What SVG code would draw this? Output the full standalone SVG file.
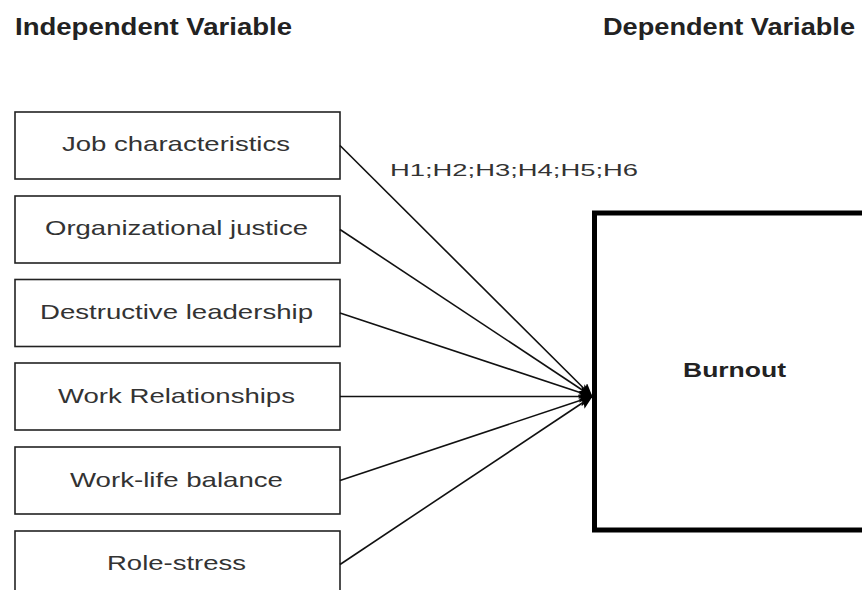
<svg xmlns="http://www.w3.org/2000/svg" width="862" height="590" viewBox="0 0 862 590">
<style>
.bg{fill:#ffffff}
.box{fill:#ffffff;stroke:#222;stroke-width:1.6}
.main{fill:#ffffff;stroke:#000;stroke-width:5}
.t{font-family:"Liberation Sans",Arial,sans-serif;font-size:21px;fill:#333}
.h{font-family:"Liberation Sans",Arial,sans-serif;font-size:23px;font-weight:bold;fill:#222}
.b{font-family:"Liberation Sans",Arial,sans-serif;font-size:20px;font-weight:bold;fill:#222}
.lbl{font-family:"Liberation Sans",Arial,sans-serif;font-size:17px;fill:#333}
.c{stroke:#111;stroke-width:1.6;fill:none;marker-end:url(#arr)}
</style>
<defs>
<marker id="arr" markerUnits="userSpaceOnUse" markerWidth="14" markerHeight="12" refX="13" refY="6" orient="auto">
<path d="M0,0 L14,6 L0,12 L3,6 z" fill="#000"/>
</marker>
</defs>
<rect class="bg" x="0" y="0" width="862" height="590"/>
<text class="h" x="15" y="35" textLength="277" lengthAdjust="spacingAndGlyphs">Independent Variable</text>
<text class="h" x="603" y="35" textLength="252" lengthAdjust="spacingAndGlyphs">Dependent Variable</text>
<g id="burnout">
<rect class="main" x="594.5" y="213" width="300" height="317"/>
<text class="b" x="683" y="377" textLength="103" lengthAdjust="spacingAndGlyphs">Burnout</text>
</g>
<g id="job">
<rect class="box" x="15" y="112" width="325" height="67"/>
<text class="t" x="62" y="151" textLength="228" lengthAdjust="spacingAndGlyphs">Job characteristics</text>
</g>
<g id="justice">
<rect class="box" x="15" y="196" width="325" height="67"/>
<text class="t" x="45" y="235" textLength="263" lengthAdjust="spacingAndGlyphs">Organizational justice</text>
</g>
<g id="leadership">
<rect class="box" x="15" y="279.5" width="325" height="67"/>
<text class="t" x="40" y="319" textLength="273" lengthAdjust="spacingAndGlyphs">Destructive leadership</text>
</g>
<g id="relationships">
<rect class="box" x="15" y="363" width="325" height="67"/>
<text class="t" x="58" y="402.5" textLength="237" lengthAdjust="spacingAndGlyphs">Work Relationships</text>
</g>
<g id="balance">
<rect class="box" x="15" y="447" width="325" height="67"/>
<text class="t" x="70" y="486.5" textLength="213" lengthAdjust="spacingAndGlyphs">Work-life balance</text>
</g>
<g id="stress">
<rect class="box" x="15" y="531" width="325" height="67"/>
<text class="t" x="107" y="570" textLength="139" lengthAdjust="spacingAndGlyphs">Role-stress</text>
</g>
<g id="connectors">
<line class="c" x1="340" y1="145.5" x2="592" y2="396.5"/>
<line class="c" x1="340" y1="229.5" x2="592" y2="396.5"/>
<line class="c" x1="340" y1="313" x2="592" y2="396.5"/>
<line class="c" x1="340" y1="396.5" x2="592" y2="396.5"/>
<line class="c" x1="340" y1="480.5" x2="592" y2="396.5"/>
<line class="c" x1="340" y1="564.5" x2="592" y2="396.5"/>
<text class="lbl" x="390" y="175.5" textLength="248" lengthAdjust="spacingAndGlyphs">H1;H2;H3;H4;H5;H6</text>
</g>
</svg>
